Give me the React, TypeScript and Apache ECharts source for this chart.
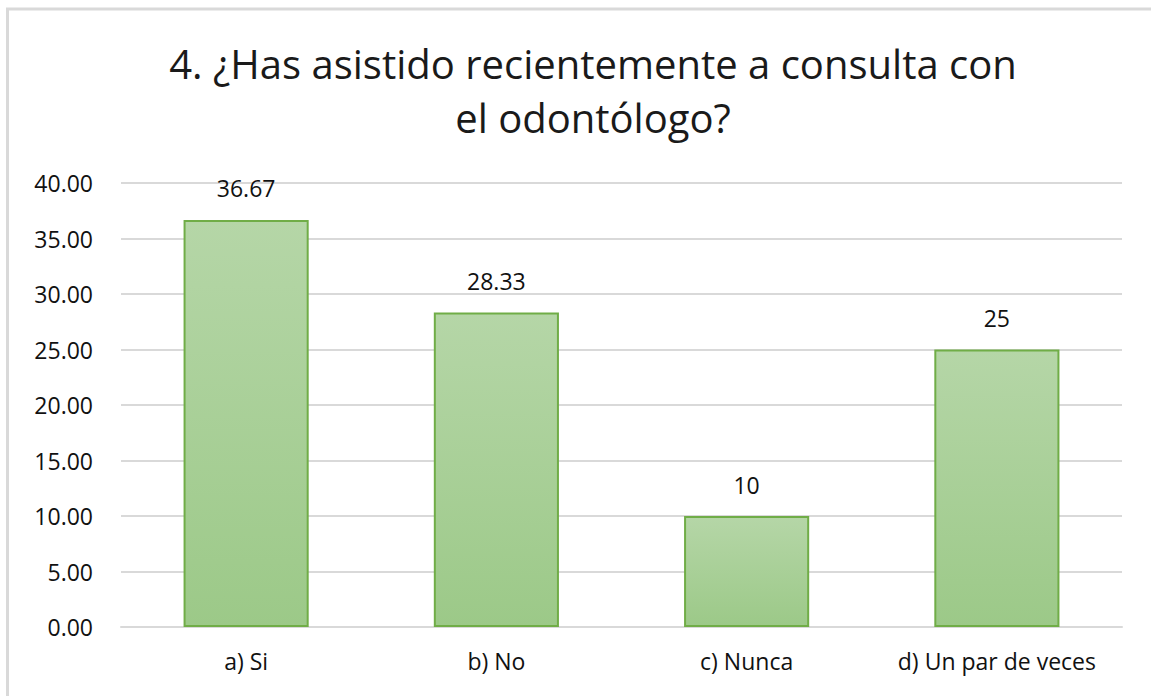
import React, { useEffect, useRef } from "react";
import * as echarts from "echarts";

const categories = ["a) Si", "b) No", "c) Nunca", "d) Un par de veces"];
const values = [36.67, 28.33, 10, 25];
const valueLabels = ["36.67", "28.33", "10", "25"];
const titleText = "4. ¿Has asistido recientemente a consulta con\nel odontólogo?";

export default function App() {
  const ref = useRef<HTMLDivElement>(null);
  useEffect(() => {
    if (!ref.current) return;
    const chart = echarts.init(ref.current, null, { renderer: "svg" });
    const font = "'Open Sans', 'Noto Sans', sans-serif";
    chart.setOption({
      animation: false,
      backgroundColor: "#ffffff",
      textStyle: { fontFamily: font },
      title: {
        text: titleText,
        left: 588,
        textAlign: "center",
        top: 31,
        textStyle: {
          fontFamily: font,
          fontSize: 40,
          fontWeight: "normal",
          color: "#1a1a1a",
          lineHeight: 54,
        },
      },
      graphic: [
        {
          type: "rect",
          shape: { x: 7.5, y: 9, width: 1200, height: 760 },
          style: { fill: "none", stroke: "#d9d9d9", lineWidth: 3 },
          silent: true,
        },
      ],
      grid: { left: 121, right: 29, top: 183, bottom: 69 },
      xAxis: {
        type: "category",
        data: categories,
        axisTick: { show: false },
        axisLine: { show: true, lineStyle: { color: "#d9d9d9", width: 2 } },
        axisLabel: {
          color: "#111111",
          fontSize: 23,
          margin: 22,
          interval: 0,
          hideOverlap: false,
          fontFamily: font,
        },
      },
      yAxis: {
        type: "value",
        min: 0,
        max: 40,
        interval: 5,
        axisLine: { show: false },
        axisTick: { show: false },
        splitLine: { lineStyle: { color: "#d9d9d9", width: 2 } },
        axisLabel: {
          color: "#111111",
          fontSize: 23,
          margin: 28,
          fontFamily: font,
          formatter: (v: number) => v.toFixed(2),
        },
      },
      series: [
        {
          type: "bar",
          data: values,
          barWidth: "50%",
          itemStyle: {
            color: new echarts.graphic.LinearGradient(0, 0, 0, 1, [
              { offset: 0, color: "#b5d6a7" },
              { offset: 1, color: "#9cc988" },
            ]),
            borderColor: "#70ad47",
            borderWidth: 2,
          },
          label: {
            show: true,
            position: "top",
            distance: 20,
            color: "#111111",
            fontSize: 23,
            fontFamily: font,
            formatter: (p: any) => valueLabels[p.dataIndex],
          },
        },
      ],
    });
    return () => chart.dispose();
  }, []);
  return (
    <div
      ref={ref}
      style={{ position: "absolute", left: 0, top: 0, width: 1151, height: 696 }}
    />
  );
}
